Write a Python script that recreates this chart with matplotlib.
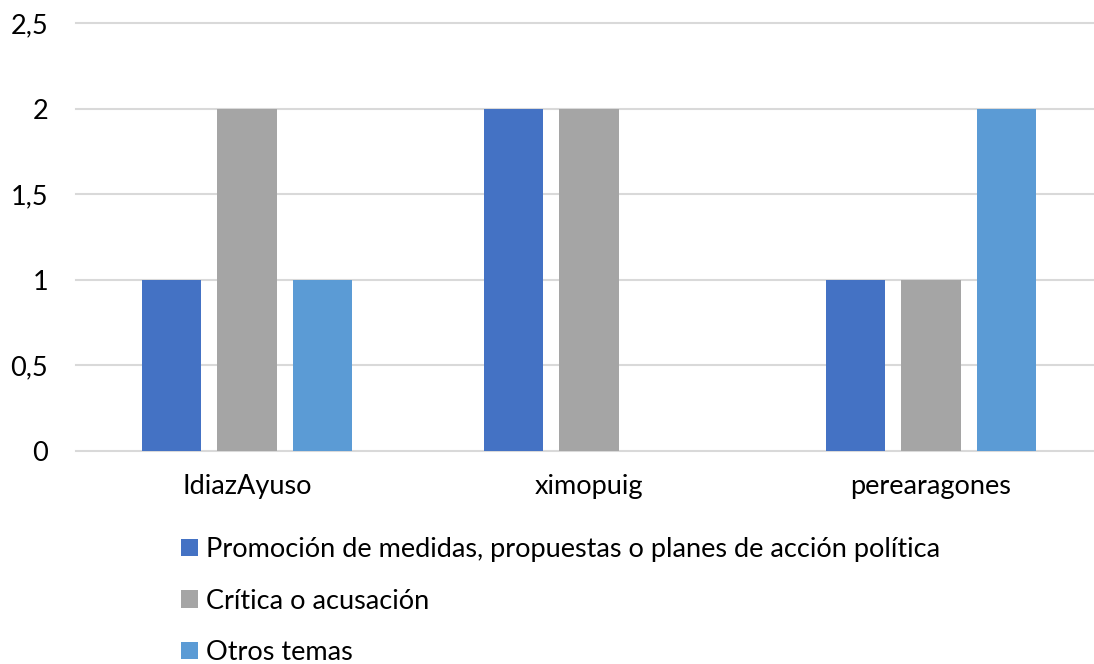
import matplotlib
matplotlib.use("Agg")
import matplotlib.pyplot as plt
import numpy as np

categories = ["IdiazAyuso", "ximopuig", "perearagones"]
series_names = [
    "Promoción de medidas, propuestas o planes de acción política",
    "Crítica o acusación",
    "Otros temas",
]
promocion = [1, 2, 1]
critica = [2, 2, 1]
otros = [1, 0, 2]
y_ticks = [0, 0.5, 1, 1.5, 2, 2.5]
y_tick_labels = ["0", "0,5", "1", "1,5", "2", "2,5"]

colors = ["#4472C4", "#A5A5A5", "#5B9BD5"]

plt.rcParams["font.family"] = ["Lato", "DejaVu Sans"]

W, H = 1094, 664
fig = plt.figure(figsize=(W / 100, H / 100), dpi=100)

# plot area in pixels: left 76, right 1102 (runs past the figure edge), y from 23 to 451
left, right, top, bottom = 76, 1102, 23.3, 451
ax = fig.add_axes([left / W, (H - bottom) / H, (right - left) / W, (bottom - top) / H])

x = np.arange(len(categories))
bar_w = 0.174
step = 0.221
for i, (vals, name, c) in enumerate(zip([promocion, critica, otros], series_names, colors)):
    ax.bar(x + (i - 1) * step, vals, width=bar_w, color=c, label=name, zorder=3)

ax.set_xlim(-0.5, len(categories) - 0.5)
ax.set_ylim(0, 2.5)
ax.set_yticks(y_ticks)
ax.set_yticklabels(y_tick_labels)
ax.set_xticks(x)
ax.set_xticklabels(categories)

for s in ax.spines.values():
    s.set_visible(False)
ax.yaxis.grid(True, color="#D9D9D9", linewidth=1.5, zorder=0)
for gl in ax.get_ygridlines():
    gl.set_clip_on(False)
FS = 19.5
ax.tick_params(axis="both", length=0, labelsize=FS, colors="black")
ax.tick_params(axis="y", pad=20)
ax.tick_params(axis="x", pad=16.5)

handles, labels = ax.get_legend_handles_labels()
leg = fig.legend(handles, labels, loc="upper left",
                 bbox_to_anchor=(181 / W, 1 - 537 / H),
                 frameon=False, fontsize=FS, handlelength=0.62, handleheight=0.62,
                 handletextpad=0.3, labelspacing=0.98, borderaxespad=0, borderpad=0)

fig.savefig("out.png", dpi=100)
